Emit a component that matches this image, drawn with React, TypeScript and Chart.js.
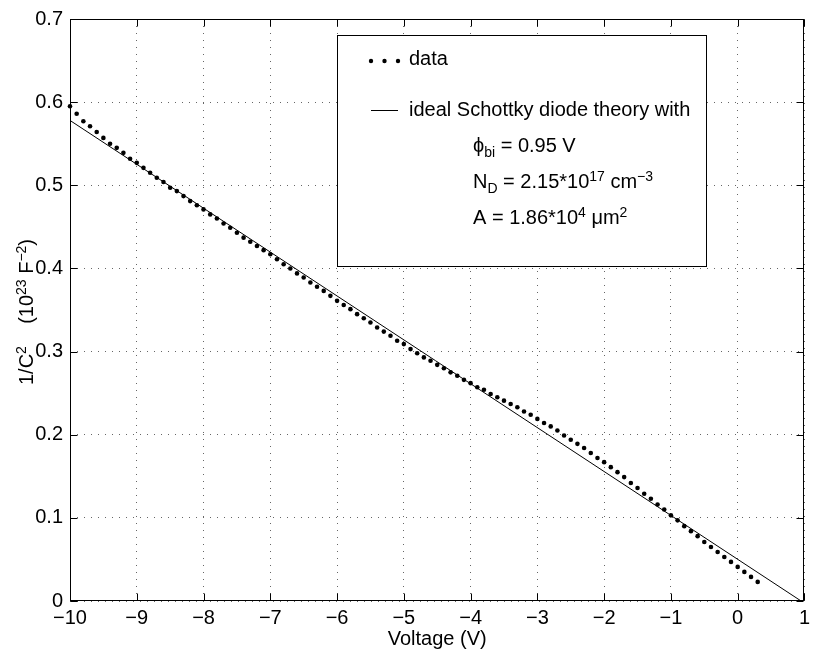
import { useEffect, useRef } from "react";
import { Chart, registerables } from "chart.js";

Chart.register(...registerables);

const FONT = '"Liberation Sans", Arial, Helvetica, sans-serif';

const voltage = [
  -10.0, -9.9, -9.8, -9.7, -9.6, -9.5, -9.4, -9.3, -9.2, -9.1,
  -9.0, -8.9, -8.8, -8.7, -8.6, -8.5, -8.4, -8.3, -8.2, -8.1,
  -8.0, -7.9, -7.8, -7.7, -7.6, -7.5, -7.4, -7.3, -7.2, -7.1,
  -7.0, -6.9, -6.8, -6.7, -6.6, -6.5, -6.4, -6.3, -6.2, -6.1,
  -6.0, -5.9, -5.8, -5.7, -5.6, -5.5, -5.4, -5.3, -5.2, -5.1,
  -5.0, -4.9, -4.8, -4.7, -4.6, -4.5, -4.4, -4.3, -4.2, -4.1,
  -4.0, -3.9, -3.8, -3.7, -3.6, -3.5, -3.4, -3.3, -3.2, -3.1,
  -3.0, -2.9, -2.8, -2.7, -2.6, -2.5, -2.4, -2.3, -2.2, -2.1,
  -2.0, -1.9, -1.8, -1.7, -1.6, -1.5, -1.4, -1.3, -1.2, -1.1,
  -1.0, -0.9, -0.8, -0.7, -0.6, -0.5, -0.4, -0.3, -0.2, -0.1,
  0.0, 0.1, 0.2, 0.3,
];
const invC2 = [
  0.595, 0.586, 0.577, 0.571, 0.564, 0.557, 0.550, 0.545, 0.539, 0.532,
  0.527, 0.521, 0.515, 0.509, 0.504, 0.497, 0.493, 0.487, 0.481, 0.476,
  0.471, 0.465, 0.460, 0.454, 0.449, 0.443, 0.437, 0.432, 0.427, 0.422,
  0.417, 0.411, 0.405, 0.400, 0.394, 0.389, 0.383, 0.378, 0.373, 0.367,
  0.361, 0.356, 0.351, 0.345, 0.340, 0.335, 0.329, 0.324, 0.319, 0.313,
  0.309, 0.303, 0.298, 0.293, 0.289, 0.284, 0.280, 0.275, 0.271, 0.266,
  0.262, 0.257, 0.254, 0.249, 0.245, 0.241, 0.237, 0.233, 0.228, 0.224,
  0.219, 0.214, 0.210, 0.205, 0.199, 0.194, 0.189, 0.184, 0.178, 0.172,
  0.167, 0.161, 0.155, 0.149, 0.142, 0.136, 0.129, 0.123, 0.116, 0.110,
  0.103, 0.097, 0.090, 0.084, 0.078, 0.071, 0.065, 0.059, 0.053, 0.047,
  0.041, 0.035, 0.029, 0.023,
];

// ideal Schottky line end points
const theoryVoltage = [-10, 0.95];
const theoryInvC2 = [0.578, 0];

const xTicks = [-10, -9, -8, -7, -6, -5, -4, -3, -2, -1, 0, 1];
const yTicks = [0, 0.1, 0.2, 0.3, 0.4, 0.5, 0.6, 0.7];

type Seg = [string, "n" | "sub" | "sup"];

const fontFor = (kind: string) => (kind === "n" ? `20px ${FONT}` : `14px ${FONT}`);

const richWidth = (ctx: CanvasRenderingContext2D, segs: Seg[]) =>
  segs.reduce((w, [t, k]) => {
    ctx.font = fontFor(k);
    return w + ctx.measureText(t).width;
  }, 0);

const drawRich = (ctx: CanvasRenderingContext2D, segs: Seg[], x: number, y: number) => {
  let cx = x;
  ctx.textAlign = "left";
  ctx.textBaseline = "alphabetic";
  for (const [t, k] of segs) {
    ctx.font = fontFor(k);
    const dy = k === "sub" ? 5 : k === "sup" ? -7 : 0;
    ctx.fillText(t, cx, y + dy);
    cx += ctx.measureText(t).width;
  }
};

const matlabFrame = {
  id: "matlabFrame",
  afterDatasetsDraw(chart: Chart) {
    const { ctx, chartArea } = chart;
    const xs = chart.scales.x;
    const ys = chart.scales.y;
    const l = Math.round(chartArea.left) + 0.5;
    const r = Math.round(chartArea.right) - 0.5;
    const t = Math.round(chartArea.top) + 0.5;
    const b = Math.round(chartArea.bottom) - 0.5;
    ctx.save();
    ctx.strokeStyle = "#000";
    ctx.fillStyle = "#000";
    ctx.lineWidth = 1;

    // legend box
    ctx.fillStyle = "#fff";
    ctx.fillRect(337.5, 35.5, 369, 231);
    ctx.strokeRect(337.5, 35.5, 369, 231);
    ctx.fillStyle = "#000";
    [371, 384.5, 398].forEach((px) => {
      ctx.beginPath();
      ctx.arc(px, 61, 2.2, 0, Math.PI * 2);
      ctx.fill();
    });
    ctx.beginPath();
    ctx.moveTo(371, 110.5);
    ctx.lineTo(398, 110.5);
    ctx.stroke();
    drawRich(ctx, [["data", "n"]], 409, 65);
    drawRich(ctx, [["ideal Schottky diode theory with", "n"]], 409, 116);
    drawRich(ctx, [["\u03d5", "n"], ["bi", "sub"], [" = 0.95 V", "n"]], 473, 152);
    drawRich(ctx, [["N", "n"], ["D", "sub"], [" = 2.15*10", "n"], ["17", "sup"], [" cm", "n"], ["\u22123", "sup"]], 473, 188);
    drawRich(ctx, [["A = 1.86*10", "n"], ["4", "sup"], [" \u03bcm", "n"], ["2", "sup"]], 473, 224);

    // axes box with inward ticks on all sides
    ctx.strokeRect(l, t, r - l, b - t);
    ctx.beginPath();
    xTicks.forEach((v) => {
      const px = Math.round(xs.getPixelForValue(v)) + 0.5;
      ctx.moveTo(px, b);
      ctx.lineTo(px, b - 7);
      ctx.moveTo(px, t);
      ctx.lineTo(px, t + 7);
    });
    yTicks.forEach((v) => {
      const py = Math.round(ys.getPixelForValue(v)) + 0.5;
      ctx.moveTo(l, py);
      ctx.lineTo(l + 7, py);
      ctx.moveTo(r, py);
      ctx.lineTo(r - 7, py);
    });
    ctx.stroke();

    // axis titles
    ctx.font = `20px ${FONT}`;
    ctx.textAlign = "center";
    ctx.textBaseline = "alphabetic";
    ctx.fillText("Voltage (V)", (chartArea.left + chartArea.right) / 2, 645);

    const ySegs: Seg[] = [["1/C", "n"], ["2", "sup"], ["    (10", "n"], ["23", "sup"], [" F", "n"], ["\u22122", "sup"], [")", "n"]];
    const w = richWidth(ctx, ySegs);
    ctx.translate(33, 312);
    ctx.rotate(-Math.PI / 2);
    drawRich(ctx, ySegs, -w / 2, 0);
    ctx.restore();
  },
};

export default function App() {
  const canvasRef = useRef<HTMLCanvasElement>(null);

  useEffect(() => {
    const ctx = canvasRef.current?.getContext("2d");
    if (!ctx) return;
    const chart = new Chart(ctx, {
      type: "scatter",
      data: {
        datasets: [
          {
            label: "data",
            data: voltage.map((v, i) => ({ x: v, y: invC2[i] })),
            showLine: false,
            pointRadius: 2.3,
            pointBackgroundColor: "#000",
            pointBorderWidth: 0,
            clip: false,
          },
          {
            label: "ideal Schottky diode theory with",
            data: theoryVoltage.map((v, i) => ({ x: v, y: theoryInvC2[i] })),
            showLine: true,
            borderColor: "#000",
            borderWidth: 1,
            pointRadius: 0,
          },
        ],
      },
      options: {
        animation: false,
        responsive: false,
        devicePixelRatio: 1,
        layout: { padding: { left: 0, top: 18, right: 8, bottom: 0 } },
        plugins: { legend: { display: false }, tooltip: { enabled: false } },
        scales: {
          x: {
            type: "linear",
            min: -10,
            max: 1,
            afterBuildTicks: (s) => {
              s.ticks = xTicks.map((v) => ({ value: v }));
            },
            afterFit: (s) => {
              s.height = 53;
            },
            ticks: {
              font: { family: FONT, size: 20 },
              color: "#000",
              padding: 5,
              maxRotation: 0,
              callback: (v) => String(v).replace("-", "\u2212"),
            },
            grid: { drawTicks: false, color: "rgba(0,0,0,0.6)", lineWidth: 1 },
            border: { display: false, dash: [1, 6] },
          },
          y: {
            type: "linear",
            min: 0,
            max: 0.7,
            afterBuildTicks: (s) => {
              s.ticks = yTicks.map((v) => ({ value: v }));
            },
            afterFit: (s) => {
              s.width = 70;
            },
            ticks: {
              font: { family: FONT, size: 20 },
              color: "#000",
              padding: 7,
              callback: (v) => (Number(v) === 0 ? "0" : Number(v).toFixed(1)),
            },
            grid: { drawTicks: false, color: "rgba(0,0,0,0.6)", lineWidth: 1 },
            border: { display: false, dash: [1, 6] },
          },
        },
      },
      plugins: [matlabFrame],
    });
    return () => chart.destroy();
  }, []);

  return (
    <div style={{ position: "absolute", left: 0, top: 0, width: 815, height: 654, background: "#fff" }}>
      <canvas ref={canvasRef} width={815} height={654} />
    </div>
  );
}
